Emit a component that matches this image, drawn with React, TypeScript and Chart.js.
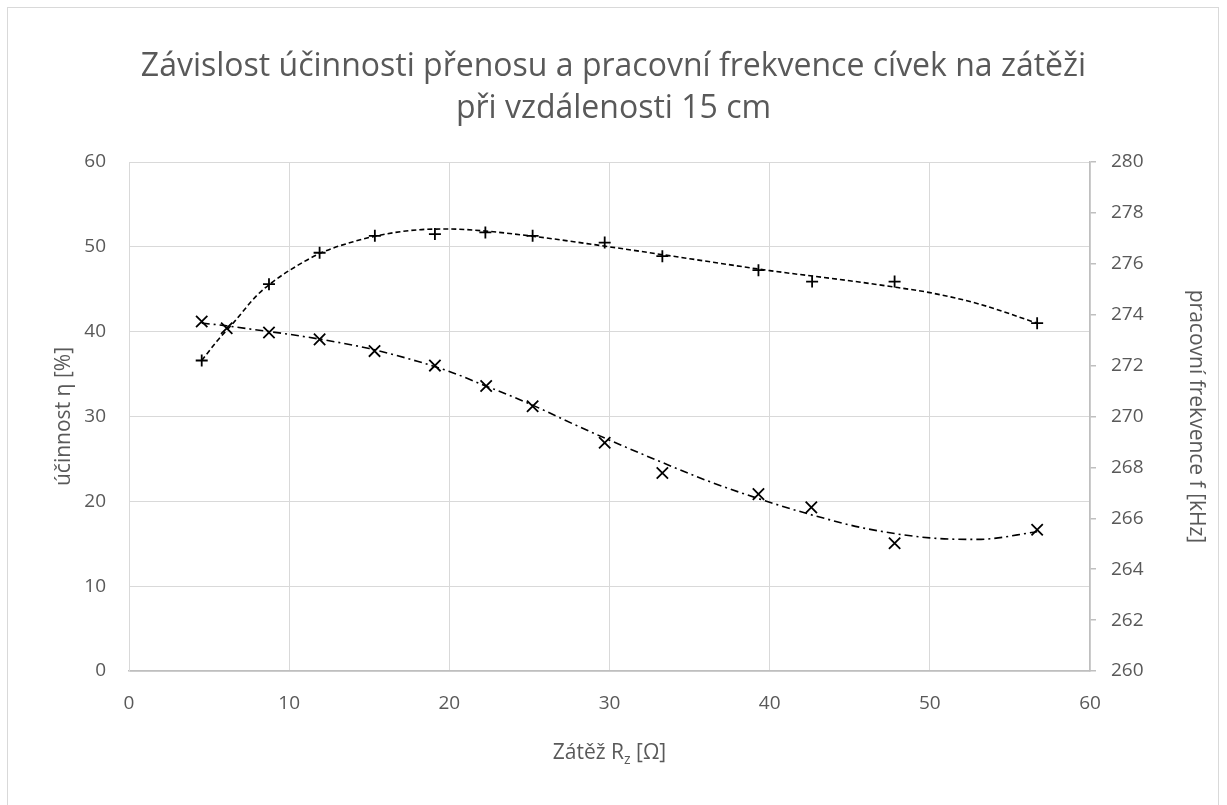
import React, { useEffect, useRef } from "react";
import { Chart, registerables } from "chart.js";

Chart.register(...registerables);

// Zátěž R_z [Ω] – measured points
const effLoad = [4.54, 8.74, 11.9, 15.35, 19.1, 22.25, 25.2, 29.7, 33.3, 39.3, 42.65, 47.8, 56.7];
const effValues = [36.6, 45.6, 49.3, 51.3, 51.5, 51.7, 51.3, 50.5, 48.9, 47.25, 45.9, 45.9, 41.0];

const freqLoad = [4.54, 6.1, 8.74, 11.9, 15.33, 19.1, 22.3, 25.2, 29.7, 33.3, 39.3, 42.6, 47.8, 56.7];
const freqValues = [273.73, 273.47, 273.3, 273.03, 272.57, 272.0, 271.2, 270.4, 268.97, 267.78, 266.95, 266.43, 265.02, 265.55];

// trendlines
const effTrendLoad = [4.54, 5.5, 6.5, 8, 9, 10, 12, 14, 16, 18, 20, 22, 25, 30, 35, 40, 45, 48, 50, 53, 56.7];
const effTrendValues = [36.6, 38.9, 41.0, 44.3, 45.9, 47.2, 49.3, 50.6, 51.5, 52.0, 52.1, 51.9, 51.3, 50.0, 48.6, 47.2, 46.0, 45.2, 44.6, 43.3, 41.0];

const freqTrendLoad = [4.54, 6, 8, 10, 12, 15, 18, 20, 22, 25, 28, 30, 33, 36, 40, 43, 46, 50, 53, 56.7];
const freqTrendValues = [273.67, 273.57, 273.4, 273.23, 273.03, 272.67, 272.17, 271.77, 271.27, 270.5, 269.63, 269.07, 268.27, 267.5, 266.63, 266.07, 265.6, 265.23, 265.17, 265.47];

const titleLines = [
  "Závislost účinnosti přenosu a pracovní frekvence cívek na zátěži",
  "při vzdálenosti 15 cm",
];
const xTitleMain = "Zátěž R";
const xTitleSub = "z";
const xTitleTail = " [Ω]";
const yLeftTitle = "účinnost η [%]";
const yRightTitle = "pracovní frekvence f [kHz]";

const FONT = "'Open Sans'";
const TEXT = "#595959";
const GRID = "#d9d9d9";
const AXIS = "#bfbfbf";

function pts(xs: number[], ys: number[]) {
  return xs.map((x, i) => ({ x, y: ys[i] }));
}

export default function App() {
  const ref = useRef<HTMLCanvasElement>(null);

  useEffect(() => {
    document.body.style.margin = "0";
    const canvas = ref.current!;

    const xTitlePlugin = {
      id: "xTitleSub",
      afterDraw(chart: any) {
        const { ctx, chartArea } = chart;
        const xs = chart.scales.x;
        const cx = (chartArea.left + chartArea.right) / 2;
        const y = xs.top + 82;
        ctx.save();
        ctx.fillStyle = TEXT;
        ctx.textBaseline = "middle";
        ctx.textAlign = "left";
        const big = `21px ${FONT}`;
        const small = `14px ${FONT}`;
        ctx.font = big;
        const w1 = ctx.measureText(xTitleMain).width;
        const w3 = ctx.measureText(xTitleTail).width;
        ctx.font = small;
        const w2 = ctx.measureText(xTitleSub).width;
        let x = cx - (w1 + w2 + w3) / 2;
        ctx.font = big;
        ctx.fillText(xTitleMain, x, y);
        x += w1;
        ctx.font = small;
        ctx.fillText(xTitleSub, x, y + 7);
        x += w2;
        ctx.font = big;
        ctx.fillText(xTitleTail, x, y);
        ctx.restore();
      },
    };

    const chart = new Chart(canvas, {
      type: "scatter",
      data: {
        datasets: [
          {
            data: pts(effLoad, effValues),
            yAxisID: "y",
            showLine: false,
            pointStyle: "cross",
            pointRadius: 6,
            pointBorderWidth: 1.8,
            borderColor: "#000",
            backgroundColor: "#000",
          },
          {
            data: pts(freqLoad, freqValues),
            yAxisID: "y1",
            showLine: false,
            pointStyle: "crossRot",
            pointRadius: 8,
            pointBorderWidth: 1.8,
            borderColor: "#000",
            backgroundColor: "#000",
          },
          {
            data: pts(effTrendLoad, effTrendValues),
            yAxisID: "y",
            showLine: true,
            pointRadius: 0,
            borderColor: "#000",
            borderWidth: 1.6,
            borderDash: [5, 3],
            tension: 0.4,
            cubicInterpolationMode: "monotone",
          },
          {
            data: pts(freqTrendLoad, freqTrendValues),
            yAxisID: "y1",
            showLine: true,
            pointRadius: 0,
            borderColor: "#000",
            borderWidth: 1.6,
            borderDash: [8, 4, 2, 4],
            tension: 0.4,
            cubicInterpolationMode: "monotone",
          },
        ],
      },
      options: {
        responsive: false,
        animation: false,
        layout: { padding: 0 },
        plugins: {
          legend: { display: false },
          tooltip: { enabled: false },
          title: {
            display: true,
            text: titleLines,
            color: TEXT,
            font: { family: FONT, size: 32, weight: "normal", lineHeight: 42 / 32 },
            padding: { top: 46, bottom: 32 },
          },
        },
        scales: {
          x: {
            type: "linear",
            min: 0,
            max: 60,
            ticks: {
              stepSize: 10,
              color: TEXT,
              padding: 21,
              font: { family: FONT, size: 19 },
            },
            grid: { color: GRID, lineWidth: 1, drawTicks: false },
            border: { color: AXIS, width: 1.5 },
            afterFit: (s: any) => {
              s.height = 134;
            },
          },
          y: {
            type: "linear",
            position: "left",
            min: 0,
            max: 60,
            ticks: {
              stepSize: 10,
              color: TEXT,
              padding: 23,
              font: { family: FONT, size: 19 },
            },
            grid: { color: GRID, lineWidth: 1, drawTicks: false },
            border: { color: GRID, width: 1 },
            title: {
              display: true,
              text: yLeftTitle,
              color: TEXT,
              font: { family: FONT, size: 21 },
              padding: { top: 51, bottom: 0 },
            },
            afterFit: (s: any) => {
              s.width = 129;
            },
          },
          y1: {
            type: "linear",
            position: "right",
            min: 260,
            max: 280,
            ticks: {
              stepSize: 2,
              color: TEXT,
              padding: 15,
              font: { family: FONT, size: 19 },
            },
            grid: {
              drawOnChartArea: false,
              drawTicks: true,
              tickLength: 6,
              color: AXIS,
              lineWidth: 1.5,
            },
            border: { color: AXIS, width: 1.5 },
            title: {
              display: true,
              text: yRightTitle,
              color: TEXT,
              font: { family: FONT, size: 21 },
              padding: { top: 18, bottom: 0 },
            },
            afterFit: (s: any) => {
              s.width = 137;
            },
          },
        },
      },
      plugins: [xTitlePlugin],
    });
    return () => chart.destroy();
  }, []);

  return (
    <div
      style={{
        position: "fixed",
        left: 0,
        top: 0,
        width: 1227,
        height: 805,
        background: "#fff",
        overflow: "hidden",
      }}
    >
      <div
        style={{
          position: "absolute",
          left: 7,
          top: 7,
          width: 1210,
          height: 830,
          border: `1px solid ${GRID}`,
        }}
      />
      <canvas
        ref={ref}
        width={1227}
        height={805}
        style={{ position: "absolute", left: 0, top: 0, width: 1227, height: 805 }}
      />
    </div>
  );
}
